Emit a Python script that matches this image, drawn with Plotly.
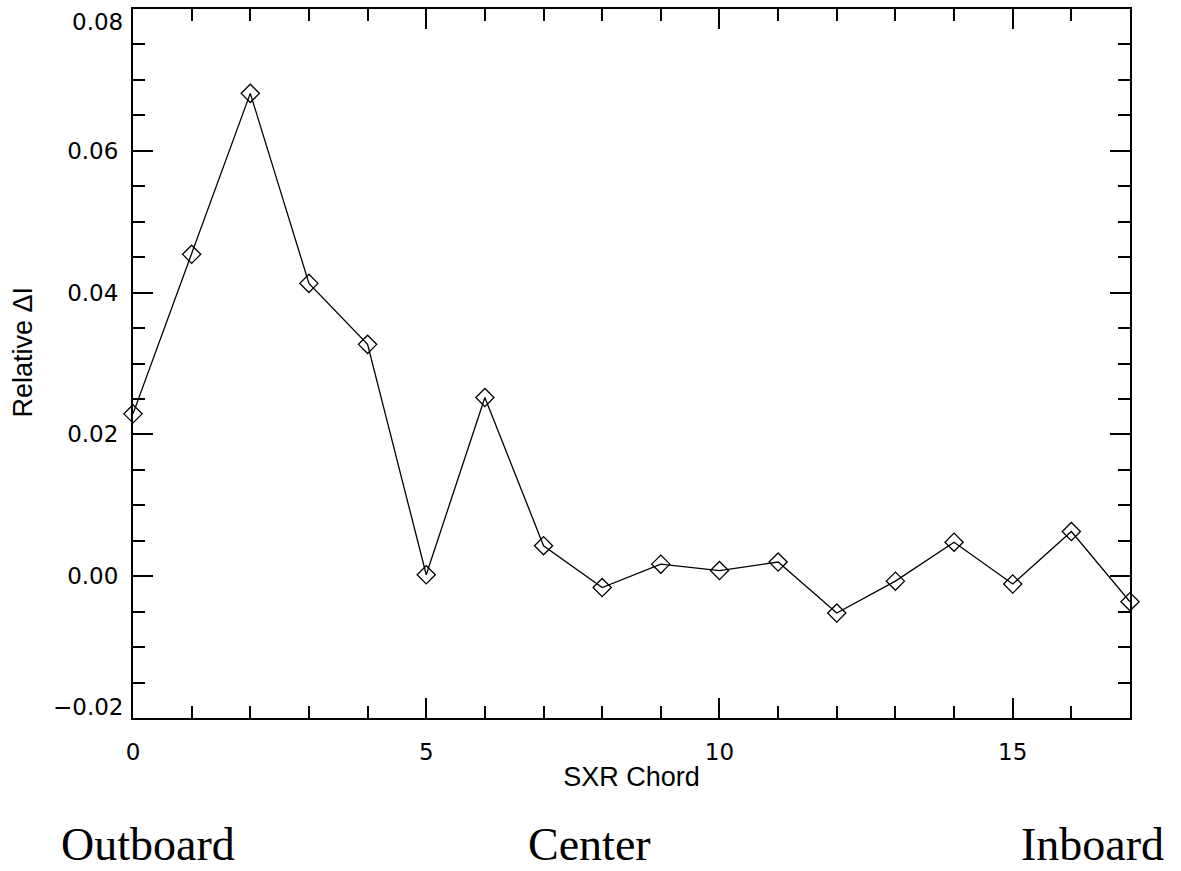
import plotly.graph_objects as go

# SXR chord index and relative intensity change
chords = list(range(18))
rel_delta_i = [0.0229, 0.0454, 0.0681, 0.0413, 0.0327, 0.0002, 0.0252, 0.0043,
               -0.0016, 0.0017, 0.0008, 0.0020, -0.0052, -0.0007, 0.0048,
               -0.0011, 0.0063, -0.0036]

x_ticks = [0, 5, 10, 15]
y_ticks = [-0.02, 0.00, 0.02, 0.04, 0.06, 0.08]
y_tick_text = ["\u22120.02", "0.00", "0.02", "0.04", "0.06", "0.08"]

side_labels = ["Outboard", "Center", "Inboard"]
side_label_pos = [0.015, 0.458, 0.962]

tick_font = dict(family="DejaVu Sans", size=23, color="black")
title_font = dict(family="Liberation Sans", size=27, color="black")

fig = go.Figure()
fig.add_trace(go.Scatter(
    x=chords, y=rel_delta_i, mode="lines+markers",
    line=dict(color="black", width=1.3),
    marker=dict(symbol="diamond-open", size=14, color="black",
                line=dict(width=1.3, color="black")),
    cliponaxis=False, showlegend=False,
))

axis_common = dict(
    showgrid=False, zeroline=False, showline=True, linecolor="black",
    linewidth=2, mirror="allticks", ticks="inside", ticklen=20,
    tickwidth=1.5, tickcolor="black", tickfont=tick_font,
    ticklabeloverflow="allow", automargin=False,
)

fig.update_xaxes(
    range=[0, 17], tickvals=x_ticks, ticktext=[str(v) for v in x_ticks],
    minor=dict(dtick=1, ticks="inside", ticklen=12, tickwidth=1.5,
               tickcolor="black", showgrid=False),
    title=dict(text="SXR Chord", font=title_font, standoff=4),
    ticklabelstandoff=12,
    **axis_common,
)

# end labels are drawn separately so they stay inside the frame
inner_text = [t if v not in (y_ticks[0], y_ticks[-1]) else ""
              for v, t in zip(y_ticks, y_tick_text)]
fig.update_yaxes(
    range=[-0.02, 0.08], tickvals=y_ticks, ticktext=inner_text,
    minor=dict(dtick=0.005, ticks="inside", ticklen=12, tickwidth=1.5,
               tickcolor="black", showgrid=False),
    ticklabelstandoff=8,
    **axis_common,
)
fig.add_annotation(
    text=y_tick_text[-1], x=0, y=y_ticks[-1], xref="paper", yref="y",
    xanchor="right", yanchor="top", xshift=-8, yshift=2, showarrow=False,
    font=tick_font,
)
fig.add_annotation(
    text=y_tick_text[0], x=0, y=y_ticks[0], xref="paper", yref="y",
    xanchor="right", yanchor="bottom", xshift=-8, yshift=-4, showarrow=False,
    font=tick_font,
)

# vertical axis title
fig.add_annotation(
    text="Relative \u0394I", x=-0.110, y=0.516, xref="paper", yref="paper",
    textangle=-90, xanchor="center", yanchor="middle", showarrow=False,
    font=title_font,
)

for label, xpos in zip(side_labels, side_label_pos):
    fig.add_annotation(
        text=label, x=xpos, y=-0.179, xref="paper", yref="paper",
        showarrow=False, xanchor="center", yanchor="middle",
        font=dict(family="Liberation Serif", size=46, color="black"),
    )

fig.update_layout(
    width=1181, height=871,
    margin=dict(l=133, r=51, t=9, b=153),
    paper_bgcolor="white", plot_bgcolor="white",
)

fig.write_html("out.html")
